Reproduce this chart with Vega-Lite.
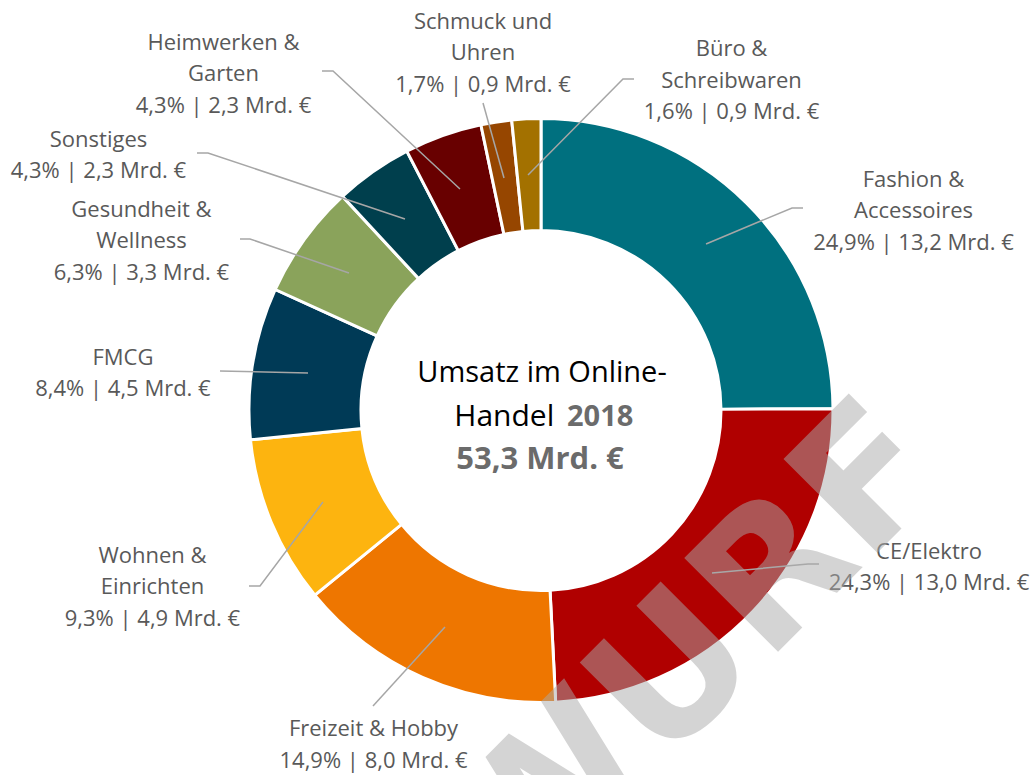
{
  "$schema": "https://vega.github.io/schema/vega-lite/v6.json",
  "width": 980,
  "height": 729,
  "autosize": "none",
  "padding": {"left": 51, "top": 46, "right": 0, "bottom": 0},
  "background": "white",
  "config": {"view": {"stroke": null}, "font": "Open Sans"},
  "datasets": {
    "segments": [
      {"segment": "Fashion & Accessoires", "share": 24.9, "umsatz": 13.2, "order": 1},
      {"segment": "CE/Elektro", "share": 24.3, "umsatz": 13.0, "order": 2},
      {"segment": "Freizeit & Hobby", "share": 14.9, "umsatz": 8.0, "order": 3},
      {"segment": "Wohnen & Einrichten", "share": 9.3, "umsatz": 4.9, "order": 4},
      {"segment": "FMCG", "share": 8.4, "umsatz": 4.5, "order": 5},
      {"segment": "Gesundheit & Wellness", "share": 6.3, "umsatz": 3.3, "order": 6},
      {"segment": "Sonstiges", "share": 4.3, "umsatz": 2.3, "order": 7},
      {"segment": "Heimwerken & Garten", "share": 4.3, "umsatz": 2.3, "order": 8},
      {"segment": "Schmuck und Uhren", "share": 1.7, "umsatz": 0.9, "order": 9},
      {"segment": "Büro & Schreibwaren", "share": 1.6, "umsatz": 0.9, "order": 10}
    ],
    "labels": [
      {"segment": "Fashion & Accessoires", "label": "Fashion &\nAccessoires\n24,9% | 13,2 Mrd. €", "lx": 127.57, "ly": 78.94},
      {"segment": "CE/Elektro", "label": "CE/Elektro\n24,3% | 13,0 Mrd. €", "lx": 132.88, "ly": -48.36},
      {"segment": "Freizeit & Hobby", "label": "Freizeit & Hobby\n14,9% | 8,0 Mrd. €", "lx": -57.36, "ly": -109.18},
      {"segment": "Wohnen & Einrichten", "label": "Wohnen &\nEinrichten\n9,3% | 4,9 Mrd. €", "lx": -133.05, "ly": -49.73},
      {"segment": "FMCG", "label": "FMCG\n8,4% | 4,5 Mrd. €", "lx": -143.15, "ly": 17.98},
      {"segment": "Gesundheit & Wellness", "label": "Gesundheit &\nWellness\n6,3% | 3,3 Mrd. €", "lx": -136.82, "ly": 68.66},
      {"segment": "Sonstiges", "label": "Sonstiges\n4,3% | 2,3 Mrd. €", "lx": -151.54, "ly": 92.64},
      {"segment": "Heimwerken & Garten", "label": "Heimwerken &\nGarten\n4,3% | 2,3 Mrd. €", "lx": -108.73, "ly": 125.96},
      {"segment": "Schmuck und Uhren", "label": "Schmuck und\nUhren\n1,7% | 0,9 Mrd. €", "lx": -19.86, "ly": 133.15},
      {"segment": "Büro & Schreibwaren", "label": "Büro &\nSchreibwaren\n1,6% | 0,9 Mrd. €", "lx": 65.24, "ly": 123.7}
    ],
    "leaders": [
      {"segment": "Fashion & Accessoires", "p": 1, "x": 56.51, "y": 57.02},
      {"segment": "Fashion & Accessoires", "p": 2, "x": 85.96, "y": 69.35},
      {"segment": "Fashion & Accessoires", "p": 3, "x": 89.73, "y": 69.35},
      {"segment": "CE/Elektro", "p": 1, "x": 58.56, "y": -55.65},
      {"segment": "CE/Elektro", "p": 2, "x": 91.44, "y": -52.57},
      {"segment": "CE/Elektro", "p": 3, "x": 95.21, "y": -52.57},
      {"segment": "Freizeit & Hobby", "p": 1, "x": -32.88, "y": -74.14},
      {"segment": "Freizeit & Hobby", "p": 2, "x": -57.53, "y": -101.2},
      {"segment": "Wohnen & Einrichten", "p": 1, "x": -74.66, "y": -31.34},
      {"segment": "Wohnen & Einrichten", "p": 2, "x": -96.23, "y": -60.1},
      {"segment": "Wohnen & Einrichten", "p": 3, "x": -100.0, "y": -60.1},
      {"segment": "FMCG", "p": 1, "x": -79.79, "y": 12.84},
      {"segment": "FMCG", "p": 2, "x": -109.93, "y": 13.53},
      {"segment": "Gesundheit & Wellness", "p": 1, "x": -65.75, "y": 47.09},
      {"segment": "Gesundheit & Wellness", "p": 2, "x": -99.66, "y": 58.73},
      {"segment": "Gesundheit & Wellness", "p": 3, "x": -103.08, "y": 58.73},
      {"segment": "Sonstiges", "p": 1, "x": -46.58, "y": 65.58},
      {"segment": "Sonstiges", "p": 2, "x": -114.04, "y": 88.18},
      {"segment": "Sonstiges", "p": 3, "x": -117.81, "y": 88.18},
      {"segment": "Heimwerken & Garten", "p": 1, "x": -27.74, "y": 75.86},
      {"segment": "Heimwerken & Garten", "p": 2, "x": -71.23, "y": 116.27},
      {"segment": "Heimwerken & Garten", "p": 3, "x": -75.0, "y": 116.27},
      {"segment": "Schmuck und Uhren", "p": 1, "x": -12.67, "y": 79.62},
      {"segment": "Schmuck und Uhren", "p": 2, "x": -19.86, "y": 105.31},
      {"segment": "Büro & Schreibwaren", "p": 1, "x": -4.45, "y": 80.65},
      {"segment": "Büro & Schreibwaren", "p": 2, "x": 28.08, "y": 113.53},
      {"segment": "Büro & Schreibwaren", "p": 3, "x": 31.85, "y": 113.53}
    ]
  },
  "layer": [
    {
      "data": {"name": "segments"},
      "mark": {"type": "arc", "innerRadius": 180, "outerRadius": 292, "stroke": "white", "strokeWidth": 3},
      "encoding": {
        "theta": {"field": "share", "type": "quantitative", "stack": true},
        "order": {"field": "order", "type": "quantitative", "sort": "ascending"},
        "color": {
          "field": "segment",
          "type": "nominal",
          "legend": null,
          "scale": {
            "domain": ["Fashion & Accessoires", "CE/Elektro", "Freizeit & Hobby", "Wohnen & Einrichten", "FMCG", "Gesundheit & Wellness", "Sonstiges", "Heimwerken & Garten", "Schmuck und Uhren", "Büro & Schreibwaren"],
            "range": ["#00707F", "#B00000", "#EE7600", "#FDB40F", "#003A56", "#8AA35B", "#003F4D", "#680000", "#964600", "#A37100"]
          }
        },
        "tooltip": [{"field": "segment"}, {"field": "share"}, {"field": "umsatz"}]
      }
    },
    {
      "data": {"name": "leaders"},
      "mark": {"type": "line", "stroke": "#A6A6A6", "strokeWidth": 1.5},
      "encoding": {
        "x": {"field": "x", "type": "quantitative", "axis": null, "scale": {"domain": [-167.8, 167.8], "nice": false, "zero": false}},
        "y": {"field": "y", "type": "quantitative", "axis": null, "scale": {"domain": [-124.8, 124.8], "nice": false, "zero": false}},
        "detail": {"field": "segment"},
        "order": {"field": "p", "type": "quantitative"}
      }
    },
    {
      "data": {"name": "labels"},
      "mark": {"type": "text", "fontSize": 22, "lineHeight": 31.5, "lineBreak": "\n", "align": "center", "baseline": "middle", "fill": "#595959"},
      "encoding": {
        "x": {"field": "lx", "type": "quantitative"},
        "y": {"field": "ly", "type": "quantitative"},
        "text": {"field": "label"}
      }
    },
    {
      "data": {"values": [{"t": "Umsatz im Online-", "cx": 0.34, "cy": 12.95}]},
      "mark": {"type": "text", "fontSize": 29, "align": "center", "baseline": "middle", "fill": "#000000"},
      "encoding": {"x": {"field": "cx", "type": "quantitative"}, "y": {"field": "cy", "type": "quantitative"}, "text": {"field": "t"}}
    },
    {
      "data": {"values": [{"t": "Handel", "cx": 4.55, "cy": -2.12}]},
      "mark": {"type": "text", "fontSize": 30, "align": "right", "baseline": "middle", "fill": "#000000"},
      "encoding": {"x": {"field": "cx", "type": "quantitative"}, "y": {"field": "cy", "type": "quantitative"}, "text": {"field": "t"}}
    },
    {
      "data": {"values": [{"t": "2018", "cx": 8.9, "cy": -2.12}]},
      "mark": {"type": "text", "fontSize": 29, "fontWeight": "bold", "align": "left", "baseline": "middle", "fill": "#6B6B6B"},
      "encoding": {"x": {"field": "cx", "type": "quantitative"}, "y": {"field": "cy", "type": "quantitative"}, "text": {"field": "t"}}
    },
    {
      "data": {"values": [{"t": "53,3 Mrd. €", "cx": -0.34, "cy": -16.95}]},
      "mark": {"type": "text", "fontSize": 31, "fontWeight": "bold", "align": "center", "baseline": "middle", "fill": "#6B6B6B"},
      "encoding": {"x": {"field": "cx", "type": "quantitative"}, "y": {"field": "cy", "type": "quantitative"}, "text": {"field": "t"}}
    },
    {
      "data": {"values": [{"t": "ENTWURF", "wx": 5.14, "wy": -132.0}]},
      "mark": {"type": "text", "font": "DejaVu Sans", "fontSize": 182, "fontWeight": "bold", "angle": -45, "align": "center", "baseline": "middle", "fill": "#AAAAAA", "opacity": 0.5},
      "encoding": {"x": {"field": "wx", "type": "quantitative"}, "y": {"field": "wy", "type": "quantitative"}, "text": {"field": "t"}}
    }
  ]
}
